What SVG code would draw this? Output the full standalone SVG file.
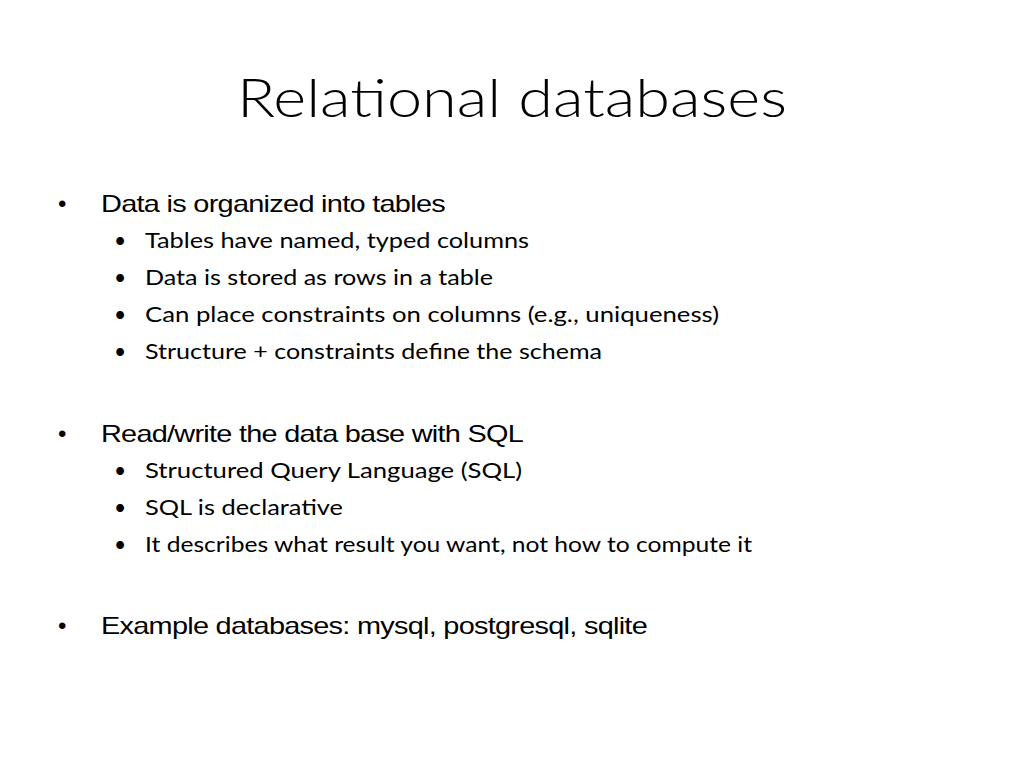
<svg xmlns="http://www.w3.org/2000/svg" width="1024" height="768" viewBox="0 0 1024 768">
<style>
.t{font-family:"Lato","Open Sans","Liberation Sans",sans-serif;font-weight:300;fill:#000}
.b1{font-family:"Liberation Sans","Open Sans",sans-serif;font-size:24px;fill:#000;letter-spacing:-0.6px}
.b2{font-family:"Lato","Open Sans","Liberation Sans",sans-serif;font-size:21px;fill:#000}
</style>
<rect width="1024" height="768" fill="#fff"/>
<text class="t" x="512" y="117" font-size="54" text-anchor="middle" textLength="550" lengthAdjust="spacingAndGlyphs">Relational databases</text>
<g class="b1">
<text x="58" y="212">•</text><text x="101" y="212" textLength="344" lengthAdjust="spacingAndGlyphs">Data is organized into tables</text>
<text x="58" y="442">•</text><text x="101" y="442" textLength="422" lengthAdjust="spacingAndGlyphs">Read/write the data base with SQL</text>
<text x="58" y="634">•</text><text x="101" y="634" textLength="546" lengthAdjust="spacingAndGlyphs">Example databases: mysql, postgresql, sqlite</text>
</g>
<g class="b2">
<text x="114" y="248">•</text><text x="145" y="248" textLength="384" lengthAdjust="spacingAndGlyphs">Tables have named, typed columns</text>
<text x="114" y="285">•</text><text x="145" y="285" textLength="348" lengthAdjust="spacingAndGlyphs">Data is stored as rows in a table</text>
<text x="114" y="322">•</text><text x="145" y="322" textLength="574" lengthAdjust="spacingAndGlyphs">Can place constraints on columns (e.g., uniqueness)</text>
<text x="114" y="359">•</text><text x="145" y="359" textLength="457" lengthAdjust="spacingAndGlyphs">Structure + constraints define the schema</text>
<text x="114" y="478">•</text><text x="145" y="478" textLength="377" lengthAdjust="spacingAndGlyphs">Structured Query Language (SQL)</text>
<text x="114" y="515">•</text><text x="145" y="515" textLength="198" lengthAdjust="spacingAndGlyphs">SQL is declarative</text>
<text x="114" y="552">•</text><text x="145" y="552" textLength="607" lengthAdjust="spacingAndGlyphs">It describes what result you want, not how to compute it</text>
</g>
</svg>
